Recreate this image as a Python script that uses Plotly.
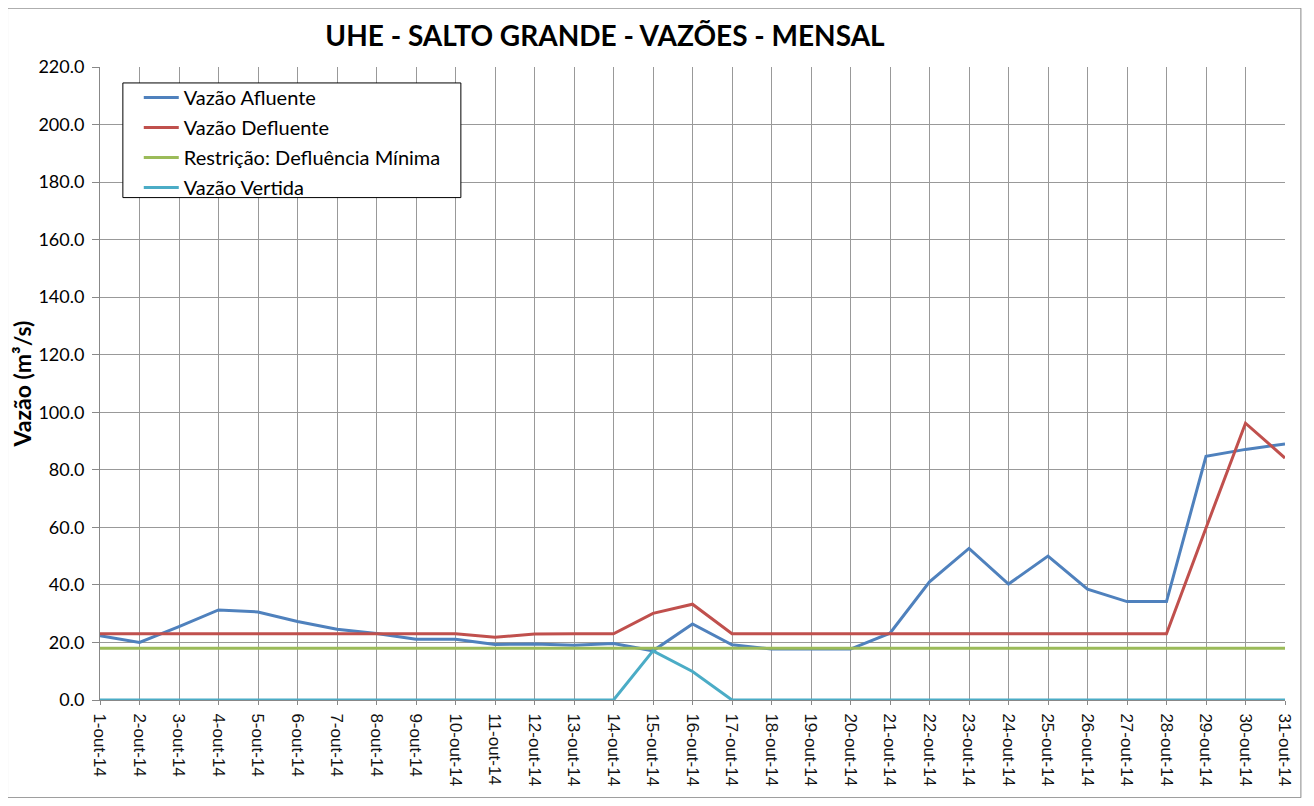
import plotly.graph_objects as go

dias = [f"{d}-out-14" for d in range(1, 32)]

vazao_afluente = [22.3, 20.0, 25.5, 31.3, 30.6, 27.3, 24.6, 23.1, 21.1, 21.1,
                  19.3, 19.5, 19.0, 19.6, 17.1, 26.4, 19.2, 17.7, 17.7, 17.7,
                  23.2, 41.1, 52.7, 40.3, 50.0, 38.5, 34.2, 34.2, 84.7, 87.1, 89.0]
vazao_defluente = [23.0, 23.0, 23.0, 23.0, 23.0, 23.0, 23.0, 23.0, 23.0, 23.0,
                   21.8, 22.9, 23.0, 23.0, 30.1, 33.3, 23.0, 23.0, 23.0, 23.0,
                   23.0, 23.0, 23.0, 23.0, 23.0, 23.0, 23.0, 23.0, 59.8, 96.2, 84.1]
defluencia_minima = [18.0] * 31
vazao_vertida = [0.0] * 14 + [17.1, 9.9] + [0.0] * 15

series = [
    ("Vazão Afluente", vazao_afluente, "#4F81BD"),
    ("Vazão Defluente", vazao_defluente, "#C0504D"),
    ("Restrição: Defluência Mínima", defluencia_minima, "#9BBB59"),
    ("Vazão Vertida", vazao_vertida, "#4BACC6"),
]

FONT = "Lato"
OFF = 8  # page body margin

fig = go.Figure()
for i, (name, vals, color) in enumerate(series):
    fig.add_trace(go.Scatter(x=dias, y=vals, mode="lines", name=name,
                             legendgroup=f"g{i}",
                             line=dict(color=color, width=3)))

W, H = 1314 - 2 * OFF, 806 - 2 * OFF
L = 99 - OFF
T = 67 - OFF
R = W - (1291 - OFF)
B = H - (702 - OFF)
pw, ph = W - L - R, H - T - B

def px2x(px):
    return (px - OFF - L) / pw

def py2y(py):
    return (T + ph - (py - OFF)) / ph

fig.update_layout(
    width=W, height=H,
    margin=dict(l=L, r=R, t=T, b=B),
    paper_bgcolor="white", plot_bgcolor="white",
    font=dict(family=FONT, color="black", size=14),
    title=dict(text="<b>UHE - SALTO GRANDE - VAZÕES - MENSAL</b>",
               x=(605 - OFF) / W, xanchor="center",
               y=1 - (36 - OFF) / H, yanchor="middle",
               font=dict(size=28, family=FONT, color="black")),
    showlegend=True,
    legend=dict(x=px2x(138), y=py2y(78), xanchor="left", yanchor="top",
                bgcolor="rgba(0,0,0,0)", borderwidth=0,
                font=dict(size=20, family=FONT, color="black"),
                tracegroupgap=1, traceorder="grouped", itemwidth=35),
    xaxis=dict(type="category", range=[0, 30], showgrid=True,
               gridcolor="#999999", gridwidth=1, tickangle=90,
               ticks="outside", ticklen=4, tickcolor="#888888",
               ticklabelstandoff=5,
               showline=True, linecolor="#888888", linewidth=1,
               tickfont=dict(size=17, family="Liberation Sans", color="#111111"),
               zeroline=False),
    yaxis=dict(range=[0, 220], dtick=20, tickformat=".1f", showgrid=True,
               gridcolor="#999999", gridwidth=1,
               ticks="outside", ticklen=7, tickcolor="#888888",
               ticklabelstandoff=4,
               showline=True, linecolor="#888888", linewidth=1,
               tickfont=dict(size=18, family=FONT, color="black"),
               zeroline=False,
               title=dict(text="<b>Vazão (m³/s)</b>", standoff=2,
                          font=dict(size=23, family=FONT, color="black"))),
)

fig.add_shape(type="rect", xref="paper", yref="paper",
              x0=px2x(6), x1=px2x(1307), y0=py2y(800), y1=py2y(8),
              line=dict(color="#888888", width=1), fillcolor="rgba(0,0,0,0)",
              layer="below")
# legend frame
fig.add_shape(type="rect", xref="paper", yref="paper",
              x0=px2x(122), x1=px2x(462), y0=py2y(198), y1=py2y(83),
              line=dict(color="black", width=1), fillcolor="white",
              layer="above")

fig.write_html("out.html")
